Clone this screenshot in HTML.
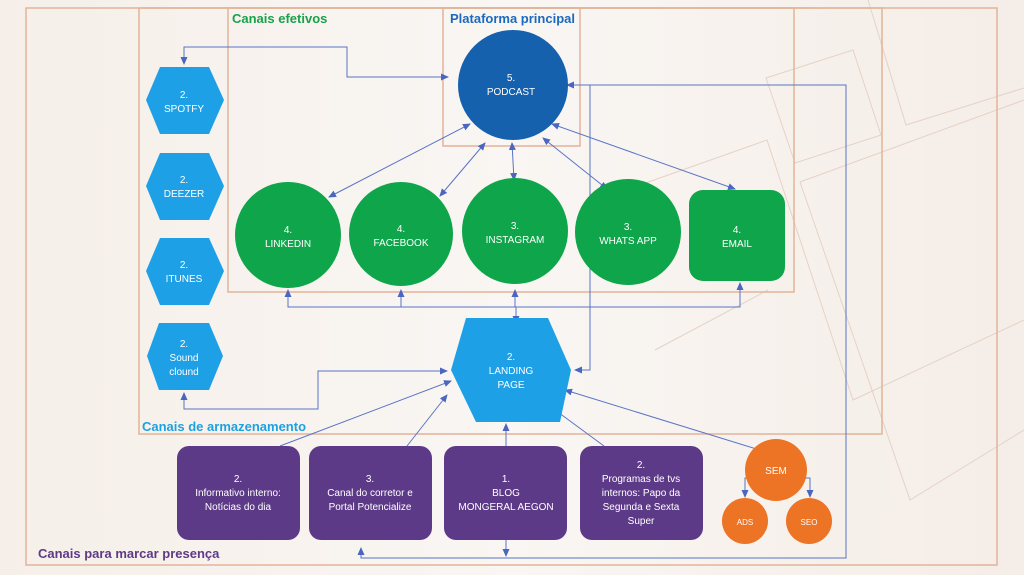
<!DOCTYPE html>
<html><head><meta charset="utf-8"><style>
html,body{margin:0;padding:0;background:#f7f2ee;}
svg{display:block;font-family:"Liberation Sans",sans-serif;}
.n{fill:#fff;font-size:10px;text-anchor:middle;}
.c{stroke:#5a74c4;stroke-width:1;fill:none;}
.b{stroke:#e2b49a;stroke-width:1.5;fill:none;}
.d{stroke:#e6d2c6;stroke-width:1;fill:none;}
</style></head><body>
<svg width="1024" height="575" viewBox="0 0 1024 575">
<defs>
<marker id="a" markerWidth="8" markerHeight="8" refX="7" refY="4" orient="auto-start-reverse" markerUnits="userSpaceOnUse"><path d="M0,0.5 L8,4 L0,7.5z" fill="#4a66c0"/></marker>
<linearGradient id="bg" x1="0" y1="0" x2="1" y2="0"><stop offset="0" stop-color="#f6efe9"/><stop offset="0.5" stop-color="#f9f6f3"/><stop offset="1" stop-color="#f5ede7"/></linearGradient>
</defs>
<rect width="1024" height="575" fill="url(#bg)"/>
<!-- decorative lines -->
<path class="d" d="M868,0 L906,125 L1024,88"/>
<path class="d" d="M766,78 L853,50 L881,135 L795,163z"/>
<path class="d" d="M800,182 L1024,100"/>
<path class="d" d="M640,185 L767,140 L853,400 L1024,320"/>
<path class="d" d="M800,182 L910,500 L1024,430"/>
<path class="d" d="M655,350 L768,290"/>
<!-- boxes -->
<rect class="b" x="26" y="8" width="971" height="557"/>
<rect class="b" x="139" y="8" width="743" height="426"/>
<rect class="b" x="228" y="8" width="566" height="284"/>
<rect class="b" x="443" y="8" width="137" height="138"/>
<text x="232" y="23" font-size="13" font-weight="bold" fill="#17a24b">Canais efetivos</text>
<text x="450" y="23" font-size="13" font-weight="bold" fill="#1c69bd">Plataforma principal</text>
<text x="142" y="431" font-size="13" font-weight="bold" fill="#1ea1e0">Canais de armazenamento</text>
<text x="38" y="558" font-size="13" font-weight="bold" fill="#5e3a87">Canais para marcar presença</text>
<!-- connectors -->
<path class="c" d="M448,77 L347,77 L347,47 L184,47 L184,64" marker-start="url(#a)" marker-end="url(#a)"/>
<path class="c" d="M567,85 L846,85 L846,558 L361,558 L361,548" marker-start="url(#a)" marker-end="url(#a)"/>
<path class="c" d="M506,424 L506,556" marker-start="url(#a)" marker-end="url(#a)"/>
<path class="c" d="M590,85 L590,370 L575,370" marker-end="url(#a)"/>
<path class="c" d="M329,197 L470,124" marker-start="url(#a)" marker-end="url(#a)"/>
<path class="c" d="M440,196 L485,143" marker-start="url(#a)" marker-end="url(#a)"/>
<path class="c" d="M514,180 L512,143" marker-start="url(#a)" marker-end="url(#a)"/>
<path class="c" d="M607,189 L543,138" marker-start="url(#a)" marker-end="url(#a)"/>
<path class="c" d="M735,189 L552,124" marker-start="url(#a)" marker-end="url(#a)"/>
<path class="c" d="M288,290 L288,307 L740,307 L740,283" marker-start="url(#a)" marker-end="url(#a)"/>
<path class="c" d="M401,307 L401,290" marker-end="url(#a)"/>
<path class="c" d="M515,307 L515,290" marker-end="url(#a)"/>
<path class="c" d="M516,307 L516,323" marker-end="url(#a)"/>
<path class="c" d="M184,393 L184,409 L318,409 L318,371 L447,371" marker-start="url(#a)" marker-end="url(#a)"/>
<path class="c" d="M280,446 L451,381" marker-end="url(#a)"/>
<path class="c" d="M407,446 L447,395" marker-end="url(#a)"/>
<path class="c" d="M604,446 L551,407" marker-end="url(#a)"/>
<path class="c" d="M565,390 L763,451" marker-start="url(#a)" marker-end="url(#a)"/>
<path class="c" d="M750,478 L745,478 L745,497" marker-end="url(#a)"/>
<path class="c" d="M802,478 L810,478 L810,497" marker-end="url(#a)"/>
<!-- hexes -->
<g fill="#1ea0e6">
<polygon points="160,67 209,67 224,100 209,134 160,134 146,100"/>
<polygon points="160,153 209,153 224,186 209,220 160,220 146,186"/>
<polygon points="160,238 209,238 224,271 209,305 160,305 146,271"/>
<polygon points="159,323 209,323 223,356 209,390 159,390 147,356"/>
<polygon points="466,318 548,318 571,370 560,422 476,422 451,370"/>
</g>
<text class="n"><tspan x="184" y="98">2.</tspan><tspan x="184" y="112">SPOTFY</tspan></text>
<text class="n"><tspan x="184" y="183">2.</tspan><tspan x="184" y="197">DEEZER</tspan></text>
<text class="n"><tspan x="184" y="268">2.</tspan><tspan x="184" y="282">ITUNES</tspan></text>
<text class="n"><tspan x="184" y="347">2.</tspan><tspan x="184" y="361">Sound</tspan><tspan x="184" y="375">clound</tspan></text>
<text class="n"><tspan x="511" y="360">2.</tspan><tspan x="511" y="374">LANDING</tspan><tspan x="511" y="388">PAGE</tspan></text>
<!-- podcast -->
<circle cx="513" cy="85" r="55" fill="#1561ae"/>
<text class="n"><tspan x="511" y="81">5.</tspan><tspan x="511" y="95">PODCAST</tspan></text>
<!-- green -->
<g fill="#0fa54a">
<circle cx="288" cy="235" r="53"/>
<circle cx="401" cy="234" r="52"/>
<circle cx="515" cy="231" r="53"/>
<circle cx="628" cy="232" r="53"/>
<rect x="689" y="190" width="96" height="91" rx="14"/>
</g>
<text class="n"><tspan x="288" y="233">4.</tspan><tspan x="288" y="247">LINKEDIN</tspan></text>
<text class="n"><tspan x="401" y="232">4.</tspan><tspan x="401" y="246">FACEBOOK</tspan></text>
<text class="n"><tspan x="515" y="229">3.</tspan><tspan x="515" y="243">INSTAGRAM</tspan></text>
<text class="n"><tspan x="628" y="230">3.</tspan><tspan x="628" y="244">WHATS APP</tspan></text>
<text class="n"><tspan x="737" y="233">4.</tspan><tspan x="737" y="247">EMAIL</tspan></text>
<!-- purple -->
<g fill="#5d3a87">
<rect x="177" y="446" width="123" height="94" rx="12"/>
<rect x="309" y="446" width="123" height="94" rx="12"/>
<rect x="444" y="446" width="123" height="94" rx="12"/>
<rect x="580" y="446" width="123" height="94" rx="12"/>
</g>
<text class="n"><tspan x="238" y="482">2.</tspan><tspan x="238" y="496">Informativo interno:</tspan><tspan x="238" y="510">Notícias do dia</tspan></text>
<text class="n"><tspan x="370" y="482">3.</tspan><tspan x="370" y="496">Canal do corretor e</tspan><tspan x="370" y="510">Portal Potencialize</tspan></text>
<text class="n"><tspan x="506" y="482">1.</tspan><tspan x="506" y="496">BLOG</tspan><tspan x="506" y="510">MONGERAL AEGON</tspan></text>
<text class="n"><tspan x="641" y="468">2.</tspan><tspan x="641" y="482">Programas de tvs</tspan><tspan x="641" y="496">internos: Papo da</tspan><tspan x="641" y="510">Segunda e Sexta</tspan><tspan x="641" y="524">Super</tspan></text>
<!-- orange -->
<g fill="#ec7424">
<ellipse cx="776" cy="470" rx="31" ry="31"/>
<ellipse cx="745" cy="521" rx="23" ry="23"/>
<ellipse cx="809" cy="521" rx="23" ry="23"/>
</g>
<text class="n" x="776" y="474" font-size="9">SEM</text>
<text class="n" x="745" y="525" style="font-size:8px">ADS</text>
<text class="n" x="809" y="525" style="font-size:8px">SEO</text>
</svg>
</body></html>
